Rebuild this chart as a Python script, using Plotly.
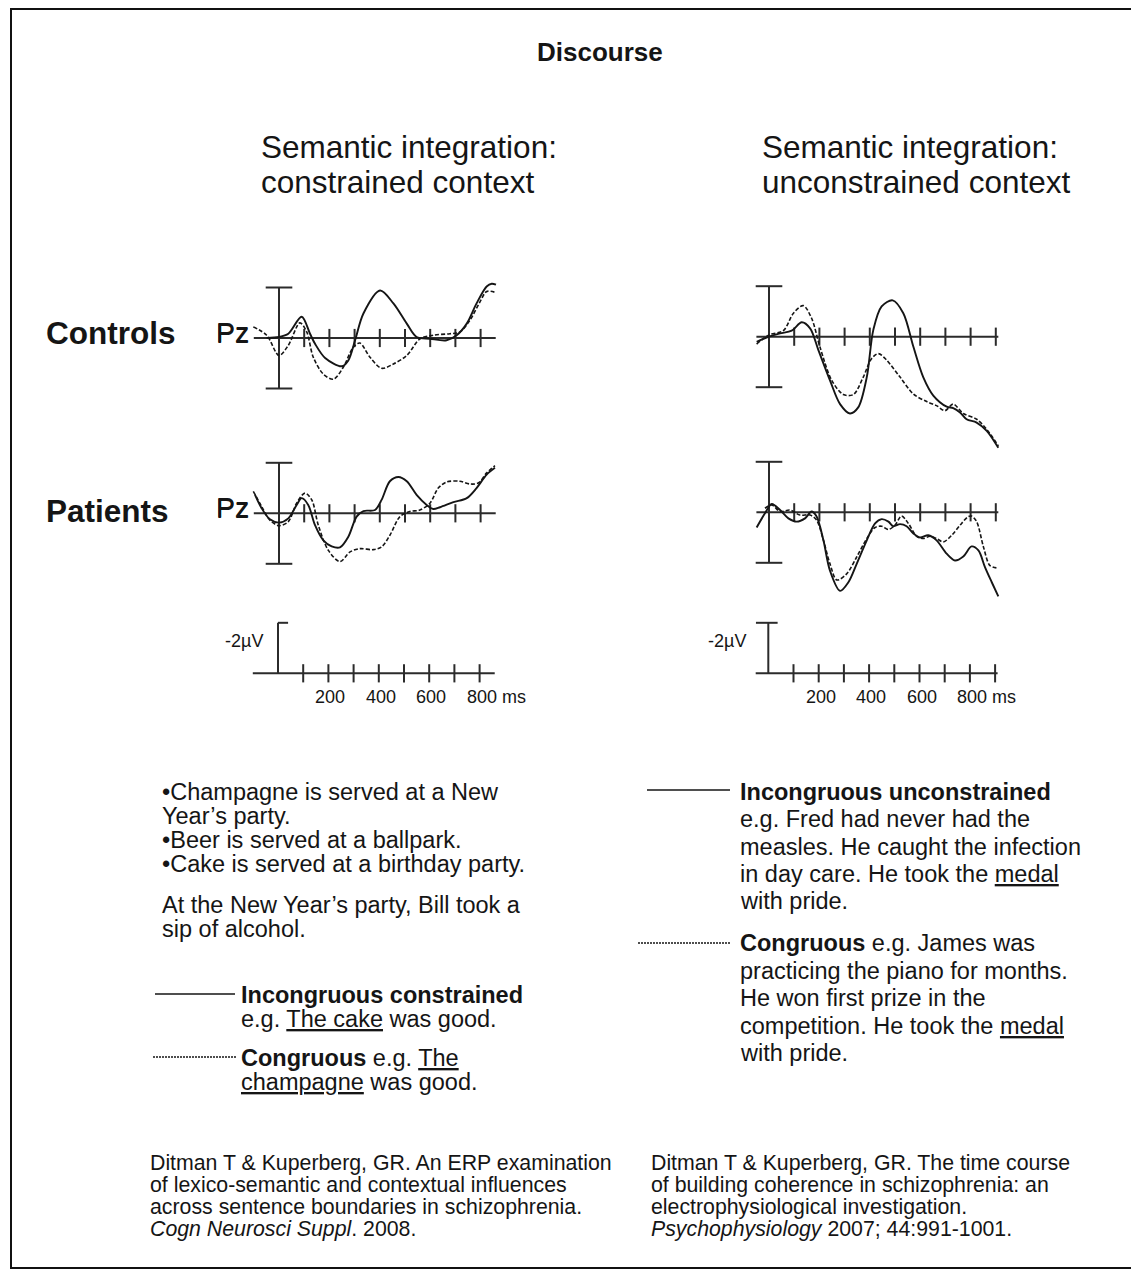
import plotly.graph_objects as go

# Page is rendered with an 8px body margin: compensate so pixel positions match.
OFF = 8
PW, PH = 1139, 1275
FW, FH = PW - OFF, PH - OFF
FONT = "Liberation Sans, Arial, Helvetica, sans-serif"
INK = "#151515"

# ---------------- data ----------------
TICKS_LEFT_MS = [100, 200, 300, 400, 500, 600, 700, 800]
TICKS_RIGHT_MS = [100, 200, 300, 400, 500, 600, 700, 800, 900]
AXIS_LEFT_MS = [-100, 860]
AXIS_RIGHT_MS = [-50, 910]
BAR_UV = [-2, 2]
SCALE_BAR_UV = [-2, 0]
SCALE_CAP_LEFT_MS = [0, 40]
SCALE_CAP_RIGHT_MS = [-49, 37]
SCALE_LABELS_MS = [200, 400, 600, 800]
SCALE_UNIT = "ms"
SCALE_UV_LABEL = "-2µV"
CHANNEL = "Pz"

# Controls, constrained context (solid = incongruous, dashed = congruous)
CC_INC_MS = [-49, 0, 37, 90, 123, 143, 183, 249, 275, 302, 335, 401, 454, 507, 546, 599, 665, 705, 745, 784, 824, 844, 861]
CC_INC_UV = [0.0, -0.04, -0.17, -0.84, -0.17, 0.23, 0.79, 1.12, 0.89, 0.09, -0.97, -1.88, -1.37, -0.57, -0.04, 0.03, 0.09, -0.11, -0.57, -1.37, -2.04, -2.15, -2.11]
CC_CON_MS = [-102, -49, 0, 37, 83, 110, 136, 176, 216, 255, 295, 321, 361, 407, 454, 507, 560, 612, 678, 718, 758, 798, 824, 861]
CC_CON_UV = [-0.44, -0.11, 0.69, 0.29, -0.6, -0.24, 0.76, 1.43, 1.63, 1.16, 0.36, 0.2, 0.76, 1.2, 1.03, 0.69, 0.03, -0.11, -0.17, -0.24, -0.71, -1.44, -1.84, -1.8]

# Controls, unconstrained context
CU_INC_MS = [-49, 0, 44, 90, 130, 163, 196, 242, 282, 321, 354, 388, 414, 447, 491, 533, 573, 612, 652, 705, 731, 758, 784, 824, 864, 910]
CU_INC_UV = [0.2, 0.0, -0.13, -0.24, -0.57, -0.33, 0.53, 1.73, 2.67, 3.04, 2.8, 1.6, -0.27, -1.2, -1.44, -0.93, 0.4, 1.6, 2.33, 2.77, 2.83, 3.0, 3.27, 3.4, 3.73, 4.4]
CU_CON_MS = [-49, 0, 57, 97, 136, 169, 202, 249, 295, 335, 374, 407, 434, 467, 520, 573, 626, 665, 698, 731, 771, 824, 864, 910]
CU_CON_UV = [0.29, -0.07, -0.24, -0.93, -1.23, -0.73, 0.4, 1.73, 2.29, 2.29, 1.6, 0.87, 0.67, 0.93, 1.6, 2.27, 2.57, 2.73, 2.93, 2.67, 3.04, 3.27, 3.67, 4.33]

# Patients, constrained context
PC_INC_MS = [-95, -69, -36, 0, 37, 70, 90, 116, 143, 176, 209, 242, 275, 308, 335, 381, 407, 440, 474, 507, 546, 586, 612, 639, 692, 745, 784, 824, 857]
PC_INC_UV = [-0.73, -0.2, 0.24, 0.37, 0.2, -0.33, -0.6, -0.33, 0.47, 1.07, 1.31, 1.35, 0.93, 0.13, -0.09, -0.13, -0.53, -1.27, -1.44, -1.27, -0.73, -0.33, -0.17, -0.24, -0.44, -0.6, -1.0, -1.53, -1.8]
PC_CON_MS = [-102, -69, -36, 0, 37, 70, 103, 130, 156, 196, 242, 282, 321, 374, 407, 440, 480, 519, 559, 599, 632, 665, 718, 758, 791, 824, 857]
PC_CON_UV = [-0.87, -0.27, 0.27, 0.49, 0.33, -0.4, -0.8, -0.53, 0.47, 1.47, 1.91, 1.53, 1.4, 1.44, 1.33, 0.87, 0.13, -0.07, -0.13, -0.4, -1.0, -1.24, -1.27, -1.16, -1.2, -1.6, -1.89]

# Patients, unconstrained context
PU_INC_MS = [-49, -16, 11, 44, 77, 110, 143, 169, 189, 216, 242, 282, 315, 348, 388, 421, 447, 474, 493, 520, 546, 573, 599, 632, 665, 705, 738, 771, 804, 831, 857, 884, 910]
PU_INC_UV = [0.6, 0.04, -0.33, -0.09, 0.24, 0.37, 0.24, -0.03, 0.17, 1.11, 2.31, 3.11, 2.77, 2.04, 1.11, 0.44, 0.27, 0.37, 0.55, 0.47, 0.55, 0.84, 1.0, 0.91, 1.11, 1.64, 1.91, 1.75, 1.35, 1.51, 2.17, 2.77, 3.33]
PU_CON_MS = [-16, 11, 44, 83, 123, 163, 189, 216, 242, 269, 308, 348, 388, 421, 447, 474, 500, 526, 553, 586, 612, 639, 665, 692, 725, 758, 791, 804, 824, 851, 877, 910]
PU_CON_UV = [-0.16, -0.29, -0.03, -0.09, 0.11, 0.11, 0.31, 1.11, 2.04, 2.68, 2.44, 1.77, 1.04, 0.6, 0.55, 0.68, 0.51, 0.15, 0.44, 0.95, 1.04, 0.95, 1.04, 1.17, 0.91, 0.51, 0.17, 0.15, 0.37, 1.37, 2.11, 2.21]

TITLE = "Discourse"
HEADERS = [["Semantic integration:", "constrained context"],
           ["Semantic integration:", "unconstrained context"]]
ROW_LABELS = ["Controls", "Patients"]

LEFT_CONTEXT = ["•Champagne is served at a New", "Year’s party.",
                "•Beer is served at a ballpark.", "•Cake is served at a birthday party."]
LEFT_SENTENCE = ["At the New Year’s party, Bill took a", "sip of alcohol."]
LEFT_INC = ["<b>Incongruous constrained</b>", "e.g. <u>The cake</u> was good."]
LEFT_CON = ["<b>Congruous</b> e.g. <u>The</u>", "<u>champagne</u> was good."]
RIGHT_INC = ["<b>Incongruous unconstrained</b>", "e.g. Fred had never had the",
             "measles. He caught the infection", "in day care. He took the <u>medal</u>", "with pride."]
RIGHT_CON = ["<b>Congruous</b> e.g. James was", "practicing the piano for months.",
             "He won first prize in the", "competition. He took the <u>medal</u>", "with pride."]
CITE_LEFT = ["Ditman T &amp; Kuperberg, GR. An ERP examination",
             "of lexico-semantic and contextual influences",
             "across sentence boundaries in schizophrenia.",
             "<i>Cogn Neurosci Suppl</i>. 2008."]
CITE_RIGHT = ["Ditman T &amp; Kuperberg, GR. The time course",
              "of building coherence in schizophrenia: an",
              "electrophysiological investigation.",
              "<i>Psychophysiology</i> 2007; 44:991-1001."]


def X(px):
    return (px - OFF) / FW


def Y(py):
    return 1 - (py - OFF) / FH


# ---------------- layout geometry (pixels) ----------------
SX = 0.252   # px per ms
SY = 25.25   # px per µV (negative up)

panels = [
    dict(ox=279.0, oy=338.0, box=(235, 520, 262, 455), kind="wave", side="L",
         waves=[(CC_INC_MS, CC_INC_UV), (CC_CON_MS, CC_CON_UV)]),
    dict(ox=769.0, oy=336.7, box=(735, 1015, 262, 455), kind="wave", side="R",
         waves=[(CU_INC_MS, CU_INC_UV), (CU_CON_MS, CU_CON_UV)]),
    dict(ox=279.0, oy=513.3, box=(235, 520, 455, 612), kind="wave", side="L",
         waves=[(PC_INC_MS, PC_INC_UV), (PC_CON_MS, PC_CON_UV)]),
    dict(ox=769.0, oy=512.3, box=(735, 1015, 455, 612), kind="wave", side="R",
         waves=[(PU_INC_MS, PU_INC_UV), (PU_CON_MS, PU_CON_UV)]),
    dict(ox=278.0, oy=673.3, box=(235, 520, 612, 720), kind="scale", side="L", waves=[]),
    dict(ox=768.3, oy=673.3, box=(735, 1015, 612, 720), kind="scale", side="R", waves=[]),
]

fig = go.Figure()
layout = {}
annotations = []
AX_COLOR = "#2b2b2b"

for i, p in enumerate(panels, start=1):
    sfx = "" if i == 1 else str(i)
    xr, yr = "x" + sfx, "y" + sfx
    x0, x1, y0, y1 = p["box"]
    ox, oy = p["ox"], p["oy"]
    layout["xaxis" + sfx] = dict(domain=[X(x0), X(x1)], range=[(x0 - ox) / SX, (x1 - ox) / SX],
                                 visible=False, fixedrange=True, anchor=yr)
    layout["yaxis" + sfx] = dict(domain=[Y(y1), Y(y0)], range=[(y1 - oy) / SY, (y0 - oy) / SY],
                                 visible=False, fixedrange=True, anchor=xr)
    ext = AXIS_LEFT_MS if p["side"] == "L" else AXIS_RIGHT_MS
    ticks = TICKS_LEFT_MS if p["side"] == "L" else TICKS_RIGHT_MS
    fig.add_trace(go.Scatter(x=ext, y=[0, 0], xaxis=xr, yaxis=yr, mode="lines",
                             line=dict(color=AX_COLOR, width=2), hoverinfo="skip", showlegend=False))
    fig.add_trace(go.Scatter(x=ticks, y=[0] * len(ticks), xaxis=xr, yaxis=yr, mode="markers",
                             marker=dict(symbol="line-ns", size=13, line=dict(color=AX_COLOR, width=2)),
                             hoverinfo="skip", showlegend=False))
    if p["kind"] == "wave":
        fig.add_trace(go.Scatter(x=[0, 0], y=BAR_UV, xaxis=xr, yaxis=yr, mode="lines+markers",
                                 line=dict(color=AX_COLOR, width=2),
                                 marker=dict(symbol="line-ew", size=19, line=dict(color=AX_COLOR, width=2)),
                                 hoverinfo="skip", showlegend=False))
        (ims, iuv), (cms, cuv) = p["waves"]
        fig.add_trace(go.Scatter(x=cms, y=cuv, xaxis=xr, yaxis=yr, mode="lines",
                                 line=dict(color=INK, width=1.6, dash="4px,2px", shape="spline", smoothing=0.9),
                                 hoverinfo="skip", showlegend=False))
        fig.add_trace(go.Scatter(x=ims, y=iuv, xaxis=xr, yaxis=yr, mode="lines",
                                 line=dict(color=INK, width=1.9, shape="spline", smoothing=0.9),
                                 hoverinfo="skip", showlegend=False))
        annotations.append(dict(x=0, y=0, xref=xr, yref=yr, text=CHANNEL, showarrow=False,
                                xanchor="right", yanchor="middle", xshift=-(ox - 250), yshift=5,
                                borderpad=0, font=dict(family=FONT, size=28.5, color=INK)))
    else:
        fig.add_trace(go.Scatter(x=[0, 0], y=SCALE_BAR_UV, xaxis=xr, yaxis=yr, mode="lines",
                                 line=dict(color=AX_COLOR, width=2), hoverinfo="skip", showlegend=False))
        cap = SCALE_CAP_LEFT_MS if p["side"] == "L" else SCALE_CAP_RIGHT_MS
        fig.add_trace(go.Scatter(x=cap, y=[SCALE_BAR_UV[0]] * 2, xaxis=xr, yaxis=yr, mode="lines",
                                 line=dict(color=AX_COLOR, width=2), hoverinfo="skip", showlegend=False))
        for v in SCALE_LABELS_MS:
            annotations.append(dict(x=v, y=0, xref=xr, yref=yr, text=str(v), showarrow=False,
                                    xanchor="center", yanchor="middle", xshift=2, yshift=-24,
                                    font=dict(family=FONT, size=18, color=INK)))
        annotations.append(dict(x=SCALE_LABELS_MS[-1], y=0, xref=xr, yref=yr, text=SCALE_UNIT,
                                showarrow=False, xanchor="left", yanchor="middle", xshift=20, yshift=-24,
                                font=dict(family=FONT, size=18, color=INK)))
        lbl_right = 265 if p["side"] == "L" else 748
        annotations.append(dict(x=X(lbl_right), y=Y(641), xref="paper", yref="paper",
                                text=SCALE_UV_LABEL, showarrow=False, xanchor="right", yanchor="middle",
                                font=dict(family=FONT, size=18, color=INK)))


def txt(x, y, s, size, xanchor="left", family=FONT):
    annotations.append(dict(x=X(x), y=Y(y), xref="paper", yref="paper", text=s, showarrow=False,
                            xanchor=xanchor, yanchor="middle", borderpad=0,
                            font=dict(family=family, size=size, color=INK)))


txt(600, 52, "<b>" + TITLE + "</b>", 26, xanchor="center")
for hx, lines in zip([260, 761], HEADERS):
    txt(hx, 147, lines[0], 31.5)
    txt(hx, 182, lines[1], 31.5)
txt(45, 333, "<b>" + ROW_LABELS[0] + "</b>", 31.5)
txt(45, 511, "<b>" + ROW_LABELS[1] + "</b>", 31.5)

LS = 23.5
for k, s in enumerate(LEFT_CONTEXT):
    txt(161, 792 + 24 * k, s, LS)
for k, s in enumerate(LEFT_SENTENCE):
    txt(161, 905 + 24 * k, s, LS)
for k, s in enumerate(LEFT_INC):
    txt(240, 995 + 24 * k, s, LS)
for k, s in enumerate(LEFT_CON):
    txt(240, 1058 + 24 * k, s, LS)
for k, s in enumerate(RIGHT_INC):
    txt(739, 792 + 27.3 * k, s, LS)
for k, s in enumerate(RIGHT_CON):
    txt(739, 943 + 27.5 * k, s, LS)
for k, s in enumerate(CITE_LEFT):
    txt(149, 1163 + 22 * k, s, 21.3)
for k, s in enumerate(CITE_RIGHT):
    txt(650, 1163 + 22 * k, s, 21.3)

shapes = []


def hline(x0, x1, y, dash="solid", width=1.6):
    shapes.append(dict(type="line", xref="paper", yref="paper", x0=X(x0), x1=X(x1),
                       y0=Y(y), y1=Y(y), line=dict(color=INK, width=width, dash=dash)))


hline(155, 235, 994)
hline(153, 237, 1057, dash="2px,1px", width=1.3)
hline(647, 730, 790)
hline(638, 730, 943, dash="2px,1px", width=1.3)
shapes.append(dict(type="rect", xref="paper", yref="paper", x0=X(11), x1=X(1133),
                   y0=Y(1268), y1=Y(9), line=dict(color="#111", width=2)))

layout.update(dict(width=FW, height=FH, margin=dict(l=0, r=0, t=0, b=0),
                   paper_bgcolor="white", plot_bgcolor="rgba(0,0,0,0)",
                   showlegend=False, annotations=annotations, shapes=shapes,
                   font=dict(family=FONT, color=INK)))
fig.update_layout(**layout)
fig.write_html("out.html", config={"displayModeBar": False})
